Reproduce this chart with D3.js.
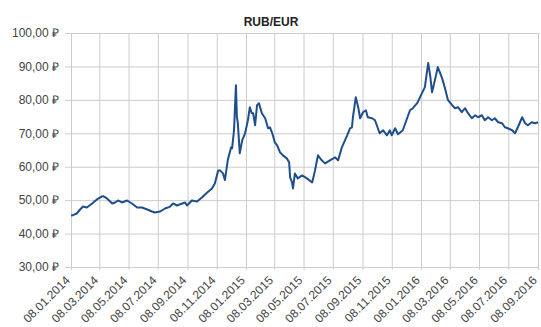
<!DOCTYPE html>
<html>
<head>
<meta charset="utf-8">
<script src="https://cdn.jsdelivr.net/npm/d3@7"></script>
<style>
  body { margin: 0; background: #fff; }
  text { font-family: "Liberation Sans", Arial, sans-serif; }
</style>
</head>
<body>
<script>
// rate samples
var dates = [
  "2014-01-08","2014-01-12","2014-01-20","2014-01-27","2014-02-02","2014-02-10","2014-02-21","2014-03-03",
  "2014-03-12","2014-03-16","2014-03-24","2014-04-04","2014-04-10","2014-04-16","2014-04-24","2014-05-05",
  "2014-05-15","2014-05-26","2014-06-05","2014-06-16","2014-06-26","2014-07-02","2014-07-13","2014-07-23",
  "2014-08-02","2014-08-09","2014-08-17","2014-08-28","2014-09-03","2014-09-07","2014-09-17","2014-09-28",
  "2014-10-08","2014-10-19","2014-10-29","2014-11-04","2014-11-11","2014-11-15","2014-11-19","2014-11-21",
  "2014-11-25","2014-12-01","2014-12-08","2014-12-10","2014-12-14","2014-12-18","2014-12-20","2014-12-22",
  "2014-12-26","2014-12-31","2015-01-06","2015-01-12","2015-01-16","2015-01-20","2015-01-23","2015-01-27",
  "2015-01-31","2015-02-04","2015-02-10","2015-02-17","2015-02-23","2015-02-27","2015-03-03","2015-03-05",
  "2015-03-09","2015-03-14","2015-03-20","2015-03-26","2015-04-03","2015-04-08","2015-04-10","2015-04-14",
  "2015-04-16","2015-04-20","2015-04-26","2015-05-05","2015-05-15","2015-05-26","2015-06-01","2015-06-07",
  "2015-06-15","2015-06-22","2015-07-02","2015-07-13","2015-07-19","2015-07-27","2015-08-07","2015-08-13",
  "2015-08-17","2015-08-19","2015-08-25","2015-08-30","2015-09-03","2015-09-09","2015-09-15","2015-09-19",
  "2015-09-28","2015-10-04","2015-10-10","2015-10-14","2015-10-21","2015-10-29","2015-11-04","2015-11-08",
  "2015-11-15","2015-11-21","2015-12-01","2015-12-10","2015-12-16","2015-12-22","2015-12-31","2016-01-06",
  "2016-01-16","2016-01-23","2016-01-27","2016-01-31","2016-02-06","2016-02-12","2016-02-21","2016-02-27",
  "2016-03-04","2016-03-13","2016-03-19","2016-03-25","2016-04-02","2016-04-09","2016-04-15","2016-04-23",
  "2016-04-30","2016-05-06","2016-05-14","2016-05-20","2016-05-27","2016-06-04","2016-06-10","2016-06-17",
  "2016-06-25","2016-07-01","2016-07-07","2016-07-16","2016-07-22","2016-07-28","2016-08-06","2016-08-12",
  "2016-08-18","2016-08-26","2016-09-02","2016-09-08"
];
var rates = [
  45.4, 45.5, 46.0, 47.2, 48.1, 47.8, 49.0, 50.2,
  51.0, 51.2, 50.5, 49.0, 49.3, 49.9, 49.3, 49.9,
  49.0, 47.8, 47.8, 47.2, 46.6, 46.3, 46.6, 47.5,
  48.0, 49.0, 48.4, 49.0, 49.3, 48.4, 49.9, 49.6,
  50.8, 52.3, 53.5, 55.0, 58.9, 58.9, 58.3, 58.0,
  56.0, 62.0, 65.8, 65.5, 70.9, 84.4, 74.8, 73.0,
  64.0, 67.9, 70.0, 73.9, 77.8, 76.0, 76.0, 72.4,
  78.4, 79.0, 76.0, 74.5, 71.5, 71.8, 70.3, 69.4,
  67.3, 66.4, 64.3, 63.4, 62.5, 61.3, 56.8, 55.3,
  53.5, 58.0, 56.5, 57.4, 56.5, 55.3, 58.9, 63.4,
  61.9, 61.0, 61.9, 62.8, 61.9, 65.8, 69.4, 71.5,
  71.8, 74.8, 80.8, 77.8, 74.5, 76.3, 76.9, 74.8,
  74.5, 73.9, 71.5, 70.0, 70.9, 69.4, 70.9, 69.4,
  71.5, 69.7, 70.9, 74.5, 76.9, 77.5, 79.0, 80.8,
  83.8, 91.0, 87.4, 82.3, 85.9, 89.8, 86.5, 83.5,
  80.0, 78.4, 77.5, 77.8, 76.3, 77.5, 76.0, 74.5,
  75.4, 74.8, 75.4, 73.9, 74.8, 73.9, 74.5, 73.3,
  73.0, 71.8, 71.5, 70.9, 70.0, 71.8, 74.8, 73.0,
  72.4, 73.3, 73.0, 73.3
];
var xTickLabels = [
  "08.01.2014","08.03.2014","08.05.2014","08.07.2014","08.09.2014","08.11.2014",
  "08.01.2015","08.03.2015","08.05.2015","08.07.2015","08.09.2015","08.11.2015",
  "08.01.2016","08.03.2016","08.05.2016","08.07.2016","08.09.2016"
];
var yTicks = [30, 40, 50, 60, 70, 80, 90, 100];

var w = 541, h = 327;
var margin = {top: 33, right: 3, bottom: 60, left: 71};

var parseIso = d3.timeParse("%Y-%m-%d");
var parseLabel = d3.timeParse("%d.%m.%Y");

var data = dates.map(function(d, i) { return {date: parseIso(d), value: rates[i]}; });
var tickDates = xTickLabels.map(parseLabel);

var x = d3.scaleTime()
    .domain([tickDates[0], tickDates[tickDates.length - 1]])
    .range([margin.left, w - margin.right]);

var y = d3.scaleLinear()
    .domain([30, 100])
    .range([h - margin.bottom, margin.top]);

var svg = d3.select("body").append("svg")
    .attr("width", w)
    .attr("height", h);

// title
svg.append("text")
    .attr("x", 271)
    .attr("y", 26)
    .attr("text-anchor", "middle")
    .attr("font-weight", "bold")
    .attr("font-size", "12px")
    .attr("fill", "#222")
    .text("RUB/EUR");

// horizontal grid + y labels
var yAxis = d3.axisLeft(y)
    .tickValues(yTicks)
    .tickSize(-(w - margin.left - margin.right) - 6)
    .tickPadding(6)
    .tickFormat(function(d) { return d.toFixed(2).replace(".", ",") + " \u20BD"; });

var gy = svg.append("g")
    .attr("transform", "translate(" + (margin.left - 6) + ",0)")
    .call(yAxis);
gy.select(".domain").remove();
gy.selectAll("line").attr("stroke", "#cccccc");
gy.selectAll("text")
    .attr("font-size", "12px")
    .attr("fill", "#444");

// vertical grid + x labels
var xAxis = d3.axisBottom(x)
    .tickValues(tickDates)
    .tickSize(-(h - margin.top - margin.bottom) - 3)
    .tickFormat(function(d, i) { return xTickLabels[i]; });

var gx = svg.append("g")
    .attr("transform", "translate(0," + (h - margin.bottom + 3) + ")")
    .call(xAxis);
gx.select(".domain").remove();
gx.selectAll("line").attr("stroke", "#cccccc");
gx.selectAll("text")
    .attr("font-size", "12px")
    .attr("fill", "#444")
    .attr("text-anchor", "end")
    .attr("dx", 0)
    .attr("dy", 0)
    .attr("transform", "translate(-3,9) rotate(-45)");

// rate line
var line = d3.line()
    .x(function(d) { return x(d.date); })
    .y(function(d) { return y(d.value); });

svg.append("path")
    .datum(data)
    .attr("fill", "none")
    .attr("stroke", "#1f4e8c")
    .attr("stroke-width", 2)
    .attr("stroke-linejoin", "round")
    .attr("d", line);
</script>
</body>
</html>
